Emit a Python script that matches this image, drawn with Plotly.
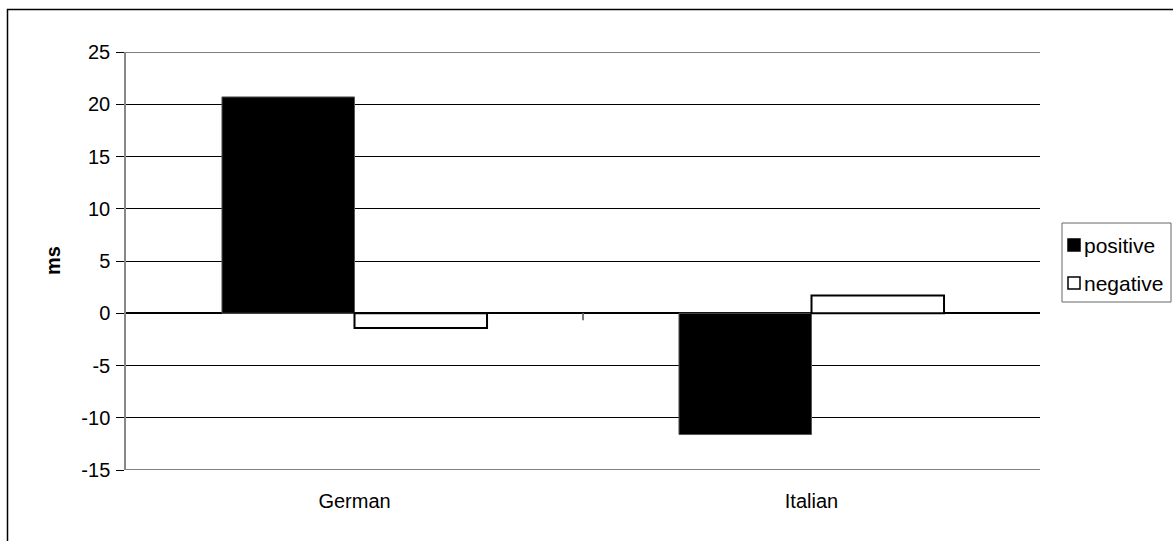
import plotly.graph_objects as go

# Mean effect (ms) per language group, split by valence
languages = ["German", "Italian"]
positive = [20.7, -11.6]
negative = [-1.4, 1.7]

# Y axis ticks (labels use a plain hyphen for negatives)
y_ticks = [-15, -10, -5, 0, 5, 10, 15, 20, 25]
y_tick_labels = ["-15", "-10", "-5", "0", "5", "10", "15", "20", "25"]

FONT = "Liberation Sans, Arial, sans-serif"
W, H = 1173, 541
L, R, T, B = 126, 133, 52, 71
PLOT_W, PLOT_H = W - L - R, H - T - B


def px_x(x):
    return (x - L) / PLOT_W


def px_y(y):
    return (H - B - y) / PLOT_H


POS_STYLE = dict(color="#000000", line=dict(color="#555555", width=1))
NEG_STYLE = dict(color="#ffffff", line=dict(color="#000000", width=2))

fig = go.Figure()
fig.add_trace(go.Bar(x=languages, y=positive, name="positive", marker=POS_STYLE))
fig.add_trace(go.Bar(x=languages, y=negative, name="negative", marker=NEG_STYLE))

fig.update_layout(
    width=W, height=H,
    margin=dict(l=L, r=R, t=T, b=B, autoexpand=False),
    paper_bgcolor="white", plot_bgcolor="white",
    font=dict(family=FONT, size=20, color="#000000"),
    barmode="group", bargap=0.42, bargroupgap=0,
    showlegend=False,
    xaxis=dict(
        showgrid=False, showline=False, zeroline=False,
        ticks="", tickfont=dict(size=20), ticklabelstandoff=17,
    ),
    yaxis=dict(
        range=[y_ticks[0], y_ticks[-1]], tickvals=y_ticks, ticktext=y_tick_labels,
        showgrid=True, gridcolor="#000000", gridwidth=1,
        zeroline=True, zerolinecolor="#000000", zerolinewidth=1.5,
        showline=True, linecolor="#888888", linewidth=1.5,
        ticks="outside", ticklen=8, tickcolor="#000000",
        tickfont=dict(size=20), ticklabelstandoff=2,
    ),
)

# Gridlines at the two ends of the value range
for yv in (y_ticks[0], y_ticks[-1]):
    fig.add_shape(
        type="line", xref="paper", yref="y", x0=0, x1=1, y0=yv, y1=yv,
        line=dict(color="#000000", width=1), layer="below",
    )

# Tick mark on the zero line between the two categories
fig.add_shape(
    type="line", xref="x", yref="y", x0=0.5, x1=0.5,
    ysizemode="pixel", yanchor=0, y0=0, y1=-7,
    line=dict(color="#777777", width=2),
)

# Chart frame
fig.add_shape(
    type="rect", xref="paper", yref="paper",
    x0=px_x(7.5), x1=px_x(1190), y0=px_y(560), y1=px_y(9.5),
    line=dict(color="#000000", width=1.5), layer="below",
)

# Legend box with swatches and labels
fig.add_shape(
    type="rect", xref="paper", yref="paper",
    x0=px_x(1062), x1=px_x(1171), y0=px_y(302), y1=px_y(223),
    line=dict(color="#666666", width=1), fillcolor="white",
)
for name, style, cy in [("positive", POS_STYLE, 245), ("negative", NEG_STYLE, 283)]:
    fig.add_shape(
        type="rect", xref="paper", yref="paper",
        x0=px_x(1068), x1=px_x(1080), y0=px_y(cy + 6), y1=px_y(cy - 6),
        fillcolor=style["color"], line=dict(color="#000000", width=1.5),
    )
    fig.add_annotation(
        text=name, xref="paper", yref="paper", x=px_x(1082), y=px_y(cy),
        xanchor="left", yanchor="middle", showarrow=False,
        font=dict(size=21),
    )

# Y axis title
fig.add_annotation(
    text="<b>ms</b>", xref="paper", yref="paper",
    x=px_x(53), y=px_y(261), xanchor="center", yanchor="middle",
    textangle=-90, showarrow=False, font=dict(size=20),
)

fig.write_html("out.html")
